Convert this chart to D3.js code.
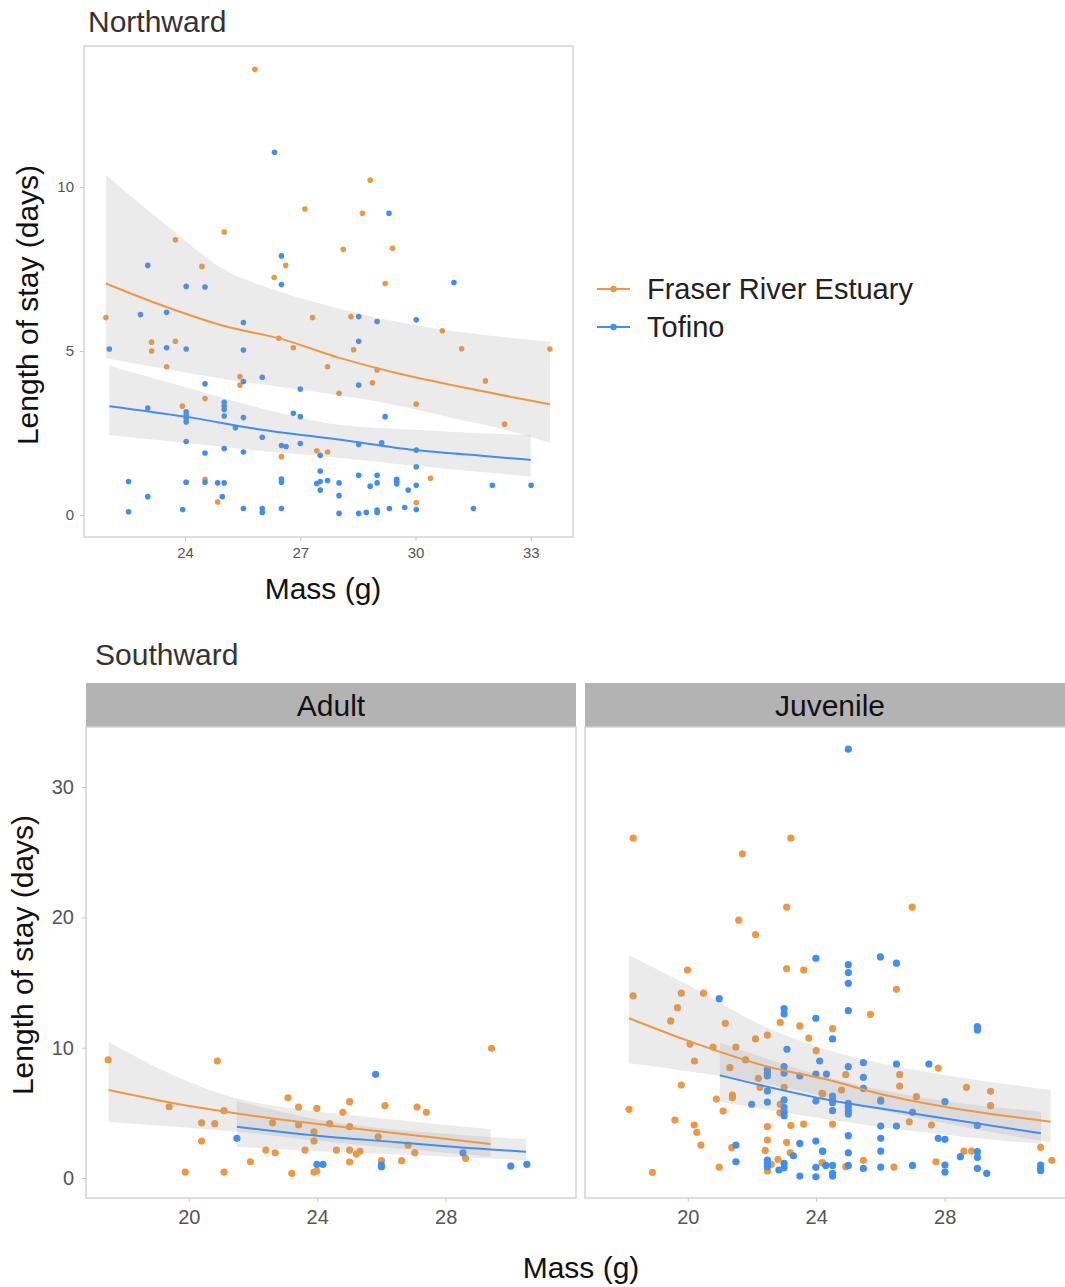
<!DOCTYPE html>
<html>
<head>
<meta charset="utf-8">
<script src="https://cdn.jsdelivr.net/npm/d3@7"></script>
<style>
  body { margin: 0; background: #fff; }
  svg { display: block; font-family: "Liberation Sans", Arial, sans-serif; }
</style>
</head>
<body>
<div id="chart"></div>
<script>
// colours for the two release sites
const siteNames = ['Fraser River Estuary', 'Tofino']
const siteColors = ['#f0973f', '#3e8ef5']

// Northward: [mass (g), length of stay (days)]
const northFraser = [
  [25.82,13.59],[27.12,9.33],[25.02,8.63],[23.75,8.39],[26.62,7.61],[24.44,7.58],[26.32,7.24],
  [28.82,10.21],[28.62,9.2],[28.12,8.1],[29.4,8.13],[29.21,7.06],
  [21.94,6.02],[23.13,5.27],[23.13,5.0],[23.75,5.3],[27.32,6.02],[26.44,5.39],[26.82,5.1],[27.71,4.52],
  [23.52,4.52],[25.43,4.22],[25.43,3.96],[24.52,3.55],[23.93,3.32],[26.51,1.78],[27.43,1.96],[27.71,1.92],
  [24.03,1.0],[24.52,1.09],[24.85,0.4],
  [28.32,6.05],[30.7,5.62],[28.39,5.04],[31.2,5.07],[33.5,5.06],[29.0,4.42],[28.88,4.03],[31.82,4.09],
  [28.01,3.71],[30.02,3.38],[32.32,2.77],[30.39,1.12],[30.02,0.38]
]
const northTofino = [
  [26.33,11.06],[26.51,7.9],[23.03,7.61],[26.51,7.03],[24.03,6.97],[24.52,6.95],[29.31,9.2],[31.0,7.09],
  [22.84,6.11],[23.52,6.18],[22.03,5.06],[23.52,5.1],[24.03,5.06],[25.52,5.87],[25.52,5.03],[25.52,4.07],
  [26.01,4.2],[24.52,4.0],[27.0,3.84],[23.03,3.26],[24.03,3.15],[24.03,3.05],[24.03,2.95],[24.03,2.84],
  [25.02,3.44],[25.02,3.33],[25.02,3.22],[25.02,3.02],[25.52,2.97],[25.31,2.66],[26.82,3.1],[27.0,3.0],
  [26.01,2.37],[24.03,2.24],[24.52,1.89],[25.02,2.03],[25.52,1.92],[26.51,2.12],[26.63,2.09],[27.0,2.18],
  [27.52,1.82],[27.52,1.34],[22.53,1.02],[23.03,0.56],[22.53,0.1],[24.03,1.0],[24.52,1.0],[24.85,0.98],
  [25.02,0.98],[24.97,0.56],[23.94,0.17],[25.52,0.2],[26.01,0.2],[26.01,0.08],[26.51,0.2],[26.51,1.1],
  [26.51,1.0],[27.43,0.96],[27.52,1.02],[27.71,1.05],[27.52,0.76],
  [28.52,6.05],[29.0,5.9],[30.02,5.95],[28.52,5.3],[28.52,3.96],[29.21,3.0],[28.52,2.15],[29.12,2.2],
  [30.02,1.98],[30.02,1.47],[28.52,1.21],[29.0,1.21],[28.01,0.98],[28.01,0.59],[28.82,0.88],[29.0,0.98],
  [29.51,1.09],[29.51,1.02],[29.51,0.95],[29.81,0.76],[30.02,0.91],[30.02,0.17],[28.01,0.05],[28.52,0.05],
  [28.72,0.08],[29.0,0.15],[29.0,0.08],[29.32,0.2],[29.72,0.23],[31.51,0.2],[32.0,0.91],[33.01,0.91]
]

// fitted curves: [mass, fit, lower, upper]
const northFraserFit = [
  [21.94,7.06,4.78,10.37],[23.5,6.35,4.45,8.85],[25,5.77,4.15,7.5],[26.5,5.37,3.9,6.8],[28,4.8,3.65,6.3],
  [29.5,4.33,3.35,5.9],[31,3.95,2.95,5.6],[32.5,3.6,2.55,5.4],[33.5,3.38,2.2,5.28]
]
const northTofinoFit = [
  [22.03,3.32,2.44,4.55],[24,3.0,2.2,3.9],[26,2.6,1.95,3.25],[28,2.3,1.75,2.75],[30,1.98,1.5,2.6],
  [32,1.78,1.28,2.48],[33,1.68,1.17,2.44]
]

// Southward, adult
const adultFraser = [
  [17.49,9.06],[20.89,8.98],[19.39,5.47],[21.1,5.17],[20.4,4.24],[20.81,4.17],[20.4,2.84],[19.89,0.46],
  [21.1,0.46],[22.61,4.24],[23.09,6.16],[23.42,5.45],[23.99,5.35],[23.42,4.07],[23.9,3.55],[23.9,2.84],
  [22.4,2.15],[22.69,1.94],[23.62,2.15],[21.92,1.25],[23.21,0.36],[23.9,0.46],[23.99,0.54],[24.39,4.17],
  [29.43,9.95],[25.01,5.86],[24.8,5.04],[26.11,5.55],[27.11,5.45],[27.4,5.04],[25.01,3.94],[25.9,3.17],
  [26.83,2.53],[27.04,1.94],[24.6,2.15],[25.01,2.15],[25.22,1.84],[25.33,2.05],[25.01,1.23],[26.0,1.33],
  [26.63,1.33],[28.62,1.51]
]
const adultTofino = [
  [21.5,3.05],[23.99,1.05],[24.18,1.05],[25.82,7.96],[26.0,0.87],[26.0,1.0],[28.54,1.94],[30.03,0.92],[30.53,1.05]
]
const adultFraserFit = [
  [17.5,6.75,4.32,10.46],[19.5,5.75,3.95,7.9],[21.5,4.95,3.55,6.1],[23.5,4.3,3.0,5.25],
  [25.5,3.7,2.5,4.7],[27.5,3.15,2.05,4.2],[29.4,2.62,1.64,3.74]
]
const adultTofinoFit = [
  [21.5,3.94,2.4,5.91],[24,3.25,2.05,4.5],[26.5,2.75,1.8,3.7],[28.5,2.35,1.6,3.3],[30.5,2.02,1.38,2.97]
]

// Southward, juvenile
const juvFraser = [
  [18.3,26.07],[23.21,26.07],[21.7,24.87],[23.08,20.78],[21.59,19.78],[22.11,18.68],[19.99,15.96],
  [23.08,16.07],[23.61,15.96],[26.99,20.78],
  [18.3,13.97],[19.8,14.18],[20.49,14.18],[19.68,13.07],[19.47,12.05],[21.17,11.87],[22.88,11.95],
  [23.49,11.67],[23.77,10.74],[22.11,10.67],[22.48,10.97],[20.07,10.28],[20.79,10.05],[21.5,10.05],
  [24.0,9.77],[20.21,8.98],[21.8,9.06],[21.31,8.47],[22.2,7.65],[19.8,7.14],[22.25,6.96],[23.0,6.96],
  [24.18,6.5],[20.89,6.06],[21.39,6.37],[21.39,6.16],[22.88,5.66],[22.87,5.01],[18.17,5.27],[21.1,5.14],
  [19.6,4.45],[20.2,4.07],[20.28,3.51],[22.48,3.94],[23.21,4.04],[23.61,4.14],[20.41,2.53],[22.48,2.92],
  [23.08,2.74],[21.37,2.33],[22.41,2.12],[23.19,1.94],[22.6,1.05],[22.81,1.44],[22.48,0.54],[20.98,0.84],
  [18.9,0.44],[24.18,1.17],
  [26.5,14.48],[25.69,12.56],[24.51,11.46],[24.92,7.93],[26.6,7.93],[27.8,8.44],[26.6,7.06],[24.79,6.75],
  [28.68,6.96],[29.43,6.65],[24.2,6.45],[26.01,5.99],[27.12,6.24],[29.43,5.55],[24.51,4.14],[26.9,4.32],
  [27.59,4.07],[28.6,2.07],[28.84,2.07],[30.99,2.36],[24.2,1.17],[25.47,1.36],[27.73,1.25],[31.34,1.36],
  [24.92,0.87],[26.42,0.84]
]
const juvTofino = [
  [23.99,16.86],[25.0,32.9],[26.0,16.96],[26.5,16.48],[25.0,16.37],[25.0,15.76],[20.98,13.76],[23.0,12.99],
  [23.0,12.59],[23.99,12.26],[23.09,9.88],[24.11,8.98],[22.48,8.34],[22.48,8.08],[22.48,7.83],[23.0,8.54],
  [23.0,8.04],[23.49,7.83],[23.99,7.98],[24.32,7.98],[22.48,6.68],[23.0,5.99],[23.99,5.91],[21.99,5.66],
  [22.48,5.83],[23.0,5.43],[23.0,5.09],[23.0,4.78],[21.5,2.53],[23.49,2.66],[23.99,2.84],[23.29,1.71],
  [24.2,2.05],[21.5,1.25],[22.48,1.38],[22.48,1.13],[22.48,0.87],[23.0,1.13],[23.0,0.79],[22.84,0.61],
  [23.49,0.15],[23.99,0.82],[23.99,0.1],
  [25.0,14.94],[25.0,12.84],[24.51,10.67],[29.02,11.61],[29.02,11.36],[25.0,8.54],[25.47,8.85],[25.47,7.73],
  [26.5,8.75],[27.51,8.75],[25.47,6.88],[24.51,6.29],[24.51,5.99],[24.51,5.78],[25.0,5.73],[25.0,5.47],
  [25.0,5.17],[25.0,4.91],[26.01,5.91],[28.01,5.86],[24.51,5.17],[27.0,5.04],[26.01,3.99],[26.5,3.99],
  [29.02,4.04],[25.0,3.25],[26.01,3.05],[27.8,3.05],[28.01,2.97],[24.2,2.07],[25.0,1.94],[26.01,2.07],
  [29.02,2.02],[29.02,1.59],[28.49,1.64],[24.3,0.97],[24.51,0.97],[24.51,0.36],[24.51,0.15],[25.0,0.97],
  [25.47,0.74],[26.01,0.84],[27.0,0.97],[28.01,1.0],[28.01,0.46],[29.02,0.74],[29.31,0.36],[30.99,1.0],
  [30.99,0.74],[30.99,0.56]
]
const juvFraserFit = [
  [18.17,12.26,8.8,17.1],[20,10.54,8.2,14.8],[22.5,8.54,7.2,11.5],[24.4,7.52,6.2,9.8],
  [26,6.45,5.2,8.8],[28,5.47,4.2,7.9],[31.3,4.32,2.71,6.75]
]
const juvTofinoFit = [
  [21,7.88,5.86,10.39],[24.4,5.99,4.5,7.7],[27,4.96,3.6,6.3],[31,3.43,2.61,5.09]
]

// axis ticks
const northXTicks = [24, 27, 30, 33]
const northYTicks = [0, 5, 10]
const southXTicks = [20, 24, 28]
const southYTicks = [0, 10, 20, 30]

const W = 1065, H = 1287
const svg = d3.select('#chart').append('svg')
  .attr('width', W)
  .attr('height', H)

// one facet: points, then ribbons, then fitted lines
function drawPanel(box, xDomain, yDomain, xTicks, yTicks, series, opts) {
  const x = d3.scaleLinear().domain(xDomain).range([box.x0, box.x1])
  const y = d3.scaleLinear().domain(yDomain).range([box.y1, box.y0])

  const clipId = 'clip' + Math.round(box.x0) + '_' + Math.round(box.y0)
  svg.append('clipPath').attr('id', clipId)
    .append('rect')
    .attr('x', box.x0).attr('y', box.y0)
    .attr('width', box.x1 - box.x0).attr('height', box.y1 - box.y0)

  const g = svg.append('g').attr('clip-path', `url(#${clipId})`)

  series.forEach(s => {
    g.append('g').selectAll('circle')
      .data(s.points)
      .join('circle')
      .attr('cx', d => x(d[0]))
      .attr('cy', d => y(d[1]))
      .attr('r', opts.r)
      .attr('fill', s.color)
  })

  const area = d3.area()
    .x(d => x(d[0]))
    .y0(d => y(d[2]))
    .y1(d => y(d[3]))
    .curve(d3.curveMonotoneX)
  series.forEach(s => {
    g.append('path')
      .attr('d', area(s.fit))
      .attr('fill', '#999')
      .attr('fill-opacity', 0.2)
  })

  const line = d3.line()
    .x(d => x(d[0]))
    .y(d => y(d[1]))
    .curve(d3.curveMonotoneX)
  series.forEach(s => {
    g.append('path')
      .attr('d', line(s.fit))
      .attr('fill', 'none')
      .attr('stroke', s.color)
      .attr('stroke-width', 2)
  })

  // panel border
  svg.append('rect')
    .attr('x', box.x0).attr('y', box.y0)
    .attr('width', box.x1 - box.x0).attr('height', box.y1 - box.y0)
    .attr('fill', 'none')
    .attr('stroke', '#d4d4d4')
    .attr('stroke-width', 1.5)

  // axes
  const xa = svg.append('g')
    .attr('transform', `translate(0,${box.y1})`)
    .call(d3.axisBottom(x).tickValues(xTicks).tickSize(4).tickPadding(opts.pad))
  const ya = svg.append('g')
    .attr('transform', `translate(${box.x0},0)`)
    .call(d3.axisLeft(y).tickValues(yTicks).tickSize(4).tickPadding(opts.pad))
  ;[xa, ya].forEach(a => {
    a.select('.domain').remove()
    a.selectAll('line').attr('stroke', '#c8c8c8')
    a.selectAll('text')
      .attr('fill', '#555')
      .style('font-size', opts.tickSize + 'px')
      .style('font-family', '"Liberation Sans", Arial, sans-serif')
  })
  if (!opts.showY) ya.remove()
}

// ---- Northward ----
svg.append('text')
  .attr('x', 88).attr('y', 32)
  .style('font-size', '30px').attr('fill', '#333')
  .text('Northward')

drawPanel({ x0: 84, x1: 573, y0: 46, y1: 537 }, [21.37, 34.1], [-0.67, 14.3],
  northXTicks, northYTicks,
  [
    { points: northFraser, fit: northFraserFit, color: siteColors[0] },
    { points: northTofino, fit: northTofinoFit, color: siteColors[1] }
  ],
  { r: 2.8, pad: 6, tickSize: 15, showY: true })

svg.append('text')
  .attr('transform', 'translate(38,305) rotate(-90)')
  .attr('text-anchor', 'middle')
  .style('font-size', '30px').attr('fill', '#111')
  .text('Length of stay (days)')
svg.append('text')
  .attr('x', 323).attr('y', 599)
  .attr('text-anchor', 'middle')
  .style('font-size', '30px').attr('fill', '#111')
  .text('Mass (g)')

// legend
const legend = svg.append('g')
siteNames.forEach((name, i) => {
  const ly = 289 + i * 38
  legend.append('line')
    .attr('x1', 597).attr('x2', 630).attr('y1', ly).attr('y2', ly)
    .attr('stroke', siteColors[i]).attr('stroke-width', 2)
  legend.append('circle')
    .attr('cx', 613.5).attr('cy', ly).attr('r', 3.2)
    .attr('fill', siteColors[i])
  legend.append('text')
    .attr('x', 647).attr('y', ly + 10)
    .style('font-size', '29px').attr('fill', '#222')
    .text(name)
})

// ---- Southward ----
svg.append('text')
  .attr('x', 95).attr('y', 665)
  .style('font-size', '30px').attr('fill', '#333')
  .text('Southward')

const facets = [
  { label: 'Adult', x0: 86, fr: adultFraser, frFit: adultFraserFit, to: adultTofino, toFit: adultTofinoFit, showY: true },
  { label: 'Juvenile', x0: 585, fr: juvFraser, frFit: juvFraserFit, to: juvTofino, toFit: juvTofinoFit, showY: false }
]
facets.forEach(f => {
  const x1 = f.x0 + 490
  svg.append('rect')
    .attr('x', f.x0).attr('y', 683)
    .attr('width', 490).attr('height', 44)
    .attr('fill', '#b3b3b3')
  svg.append('text')
    .attr('x', f.x0 + 245).attr('y', 716)
    .attr('text-anchor', 'middle')
    .style('font-size', '30px').attr('fill', '#111')
    .text(f.label)
  drawPanel({ x0: f.x0, x1: x1, y0: 727, y1: 1198 }, [16.8, 32.06], [-1.53, 34.6],
    southXTicks, southYTicks,
    [
      { points: f.fr, fit: f.frFit, color: siteColors[0] },
      { points: f.to, fit: f.toFit, color: siteColors[1] }
    ],
    { r: 3.6, pad: 8, tickSize: 20, showY: f.showY })
})

svg.append('text')
  .attr('transform', 'translate(33,955) rotate(-90)')
  .attr('text-anchor', 'middle')
  .style('font-size', '30px').attr('fill', '#111')
  .text('Length of stay (days)')
svg.append('text')
  .attr('x', 581).attr('y', 1278)
  .attr('text-anchor', 'middle')
  .style('font-size', '30px').attr('fill', '#111')
  .text('Mass (g)')
</script>
</body>
</html>
